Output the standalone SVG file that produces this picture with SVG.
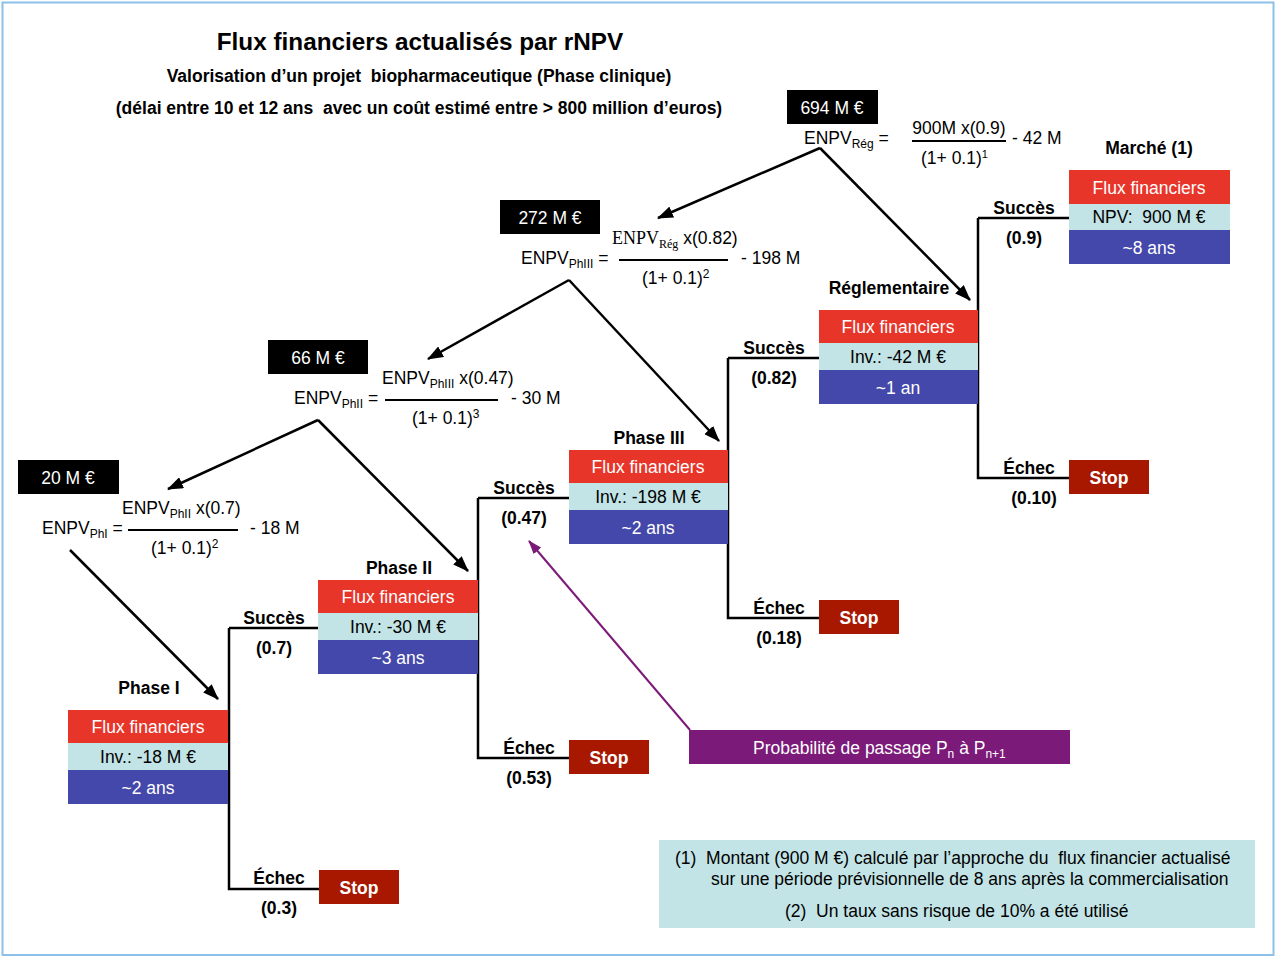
<svg xmlns="http://www.w3.org/2000/svg" width="1275" height="957" viewBox="0 0 1275 957">
<defs>
<style>
text{font-family:"Liberation Sans",Arial,sans-serif;font-size:17.5px;fill:#000;white-space:pre}
.b{font-weight:bold}
.t{font-size:24.3px;font-weight:bold}
.w{fill:#fff}
.m{text-anchor:middle}
.ser{font-family:"Liberation Serif","Times New Roman",serif}
.red{fill:#e8352a}
.lb{fill:#c2e4e6}
.blu{fill:#4448aa}
.stop{fill:#a81800}
.blk{fill:#000}
.ln{stroke:#000;stroke-width:2.5;fill:none}
.arr{stroke:#000;stroke-width:2.5;fill:none;marker-end:url(#ah)}
.frac{stroke:#000;stroke-width:2}
</style>
<marker id="ah" markerUnits="userSpaceOnUse" markerWidth="16" markerHeight="12" refX="15" refY="6" orient="auto">
<path d="M0,0 L16,6 L0,12 Z" fill="#000"/>
</marker>
<marker id="ahp" markerUnits="userSpaceOnUse" markerWidth="14" markerHeight="10" refX="13" refY="5" orient="auto">
<path d="M0,0 L14,5 L0,10 Z" fill="#7b1a78"/>
</marker>
</defs>
<rect x="0" y="0" width="1275" height="957" fill="#fff"/>
<rect x="2.5" y="2.5" width="1271" height="952.5" fill="none" stroke="#8cc0e8" stroke-width="2"/>

<g id="title">
<text class="t m" x="420" y="50">Flux financiers actualisés par rNPV</text>
<text class="b m" x="419" y="82" xml:space="preserve">Valorisation d’un projet  biopharmaceutique (Phase clinique)</text>
<text class="b m" x="419" y="114" xml:space="preserve">(délai entre 10 et 12 ans  avec un coût estimé entre &gt; 800 million d’euros)</text>
</g>

<g id="connectors">
<path class="ln" d="M229,628 H318 M229,628 V889 H319"/>
<path class="ln" d="M478,498 H569 M478,498 V758 H569"/>
<path class="ln" d="M728,358 H819 M728,358 V618 H819"/>
<path class="ln" d="M978,218 H1069 M978,218 V478 H1069"/>
<path class="arr" d="M820,148 L658,218"/>
<path class="arr" d="M820,148 L970,300"/>
<path class="arr" d="M569,280 L428,359"/>
<path class="arr" d="M569,280 L719,441"/>
<path class="arr" d="M318,420 L168,489"/>
<path class="arr" d="M318,420 L468,571"/>
<path class="arr" d="M70,550 L218,699"/>
<path d="M690,730 L529,541" stroke="#7b1a78" stroke-width="2" fill="none" marker-end="url(#ahp)"/>
</g>

<g id="value-reg">
<rect class="blk" x="787" y="90" width="91" height="34"/>
<text class="w m" x="832" y="114">694 M €</text>
<text x="804" y="144">ENPV<tspan font-size="12" dy="4">Rég</tspan><tspan dy="-4"> =</tspan></text>
<text class="m" x="959" y="134">900M x(0.9)</text>
<line class="frac" x1="912" y1="141" x2="1006" y2="141"/>
<text x="921" y="164">(1+ 0.1)<tspan font-size="11" dy="-6">1</tspan></text>
<text x="1012" y="144">- 42 M</text>
</g>

<g id="value-ph3">
<rect class="blk" x="500" y="200" width="100" height="34"/>
<text class="w m" x="550" y="224">272 M €</text>
<text x="521" y="264">ENPV<tspan font-size="12" dy="4">PhIII</tspan><tspan dy="-4"> =</tspan></text>
<text x="612" y="244"><tspan class="ser" font-size="18">ENPV</tspan><tspan class="ser" font-size="12" dy="4">Rég</tspan><tspan dy="-4"> x(0.82)</tspan></text>
<line class="frac" x1="619" y1="260" x2="728" y2="260"/>
<text x="642" y="284">(1+ 0.1)<tspan font-size="12" dy="-6">2</tspan></text>
<text x="741" y="264">- 198 M</text>
</g>

<g id="value-ph2">
<rect class="blk" x="268" y="340" width="100" height="34"/>
<text class="w m" x="318" y="364">66 M €</text>
<text x="294" y="404">ENPV<tspan font-size="12" dy="4">PhII</tspan><tspan dy="-4"> =</tspan></text>
<text x="382" y="384">ENPV<tspan font-size="12" dy="4">PhIII</tspan><tspan dy="-4"> x(0.47)</tspan></text>
<line class="frac" x1="385" y1="400" x2="498" y2="400"/>
<text x="412" y="424">(1+ 0.1)<tspan font-size="12" dy="-6">3</tspan></text>
<text x="511" y="404">- 30 M</text>
</g>

<g id="value-ph1">
<rect class="blk" x="18" y="460" width="101" height="34"/>
<text class="w m" x="68" y="484">20 M €</text>
<text x="42" y="534">ENPV<tspan font-size="12" dy="4">PhI</tspan><tspan dy="-4"> =</tspan></text>
<text x="122" y="514">ENPV<tspan font-size="12" dy="4">PhII</tspan><tspan dy="-4"> x(0.7)</tspan></text>
<line class="frac" x1="128" y1="530" x2="238" y2="530"/>
<text x="151" y="554">(1+ 0.1)<tspan font-size="12" dy="-6">2</tspan></text>
<text x="250" y="534">- 18 M</text>
</g>

<g id="phase1">
<text class="b m" x="149" y="694">Phase I</text>
<rect class="red" x="68" y="710" width="160" height="33"/>
<rect class="lb" x="68" y="743" width="160" height="27"/>
<rect class="blu" x="68" y="770" width="160" height="34"/>
<text class="w m" x="148" y="733">Flux financiers</text>
<text class="m" x="148" y="763">Inv.: -18 M €</text>
<text class="w m" x="148" y="794">~2 ans</text>
<text class="b m" x="274" y="624">Succès</text>
<text class="b m" x="274" y="654">(0.7)</text>
<text class="b m" x="279" y="884">Échec</text>
<text class="b m" x="279" y="914">(0.3)</text>
</g>
<g id="stop1">
<rect class="stop" x="319" y="870" width="80" height="34"/>
<text class="b w m" x="359" y="894">Stop</text>
</g>

<g id="phase2">
<text class="b m" x="399" y="574">Phase II</text>
<rect class="red" x="318" y="580" width="160" height="33"/>
<rect class="lb" x="318" y="613" width="160" height="27"/>
<rect class="blu" x="318" y="640" width="160" height="34"/>
<text class="w m" x="398" y="603">Flux financiers</text>
<text class="m" x="398" y="633">Inv.: -30 M €</text>
<text class="w m" x="398" y="664">~3 ans</text>
<text class="b m" x="524" y="494">Succès</text>
<text class="b m" x="524" y="524">(0.47)</text>
<text class="b m" x="529" y="754">Échec</text>
<text class="b m" x="529" y="784">(0.53)</text>
</g>
<g id="stop2">
<rect class="stop" x="569" y="740" width="80" height="34"/>
<text class="b w m" x="609" y="764">Stop</text>
</g>

<g id="phase3">
<text class="b m" x="649" y="444">Phase III</text>
<rect class="red" x="569" y="450" width="159" height="33"/>
<rect class="lb" x="569" y="483" width="159" height="27"/>
<rect class="blu" x="569" y="510" width="159" height="34"/>
<text class="w m" x="648" y="473">Flux financiers</text>
<text class="m" x="648" y="503">Inv.: -198 M €</text>
<text class="w m" x="648" y="534">~2 ans</text>
<text class="b m" x="774" y="354">Succès</text>
<text class="b m" x="774" y="384">(0.82)</text>
<text class="b m" x="779" y="614">Échec</text>
<text class="b m" x="779" y="644">(0.18)</text>
</g>
<g id="stop3">
<rect class="stop" x="819" y="600" width="80" height="34"/>
<text class="b w m" x="859" y="624">Stop</text>
</g>

<g id="reglementaire">
<text class="b m" x="889" y="294">Réglementaire</text>
<rect class="red" x="819" y="310" width="159" height="33"/>
<rect class="lb" x="819" y="343" width="159" height="27"/>
<rect class="blu" x="819" y="370" width="159" height="34"/>
<text class="w m" x="898" y="333">Flux financiers</text>
<text class="m" x="898" y="363">Inv.: -42 M €</text>
<text class="w m" x="898" y="394">~1 an</text>
<text class="b m" x="1024" y="214">Succès</text>
<text class="b m" x="1024" y="244">(0.9)</text>
<text class="b m" x="1029" y="474">Échec</text>
<text class="b m" x="1034" y="504">(0.10)</text>
</g>
<g id="stop4">
<rect class="stop" x="1069" y="460" width="80" height="34"/>
<text class="b w m" x="1109" y="484">Stop</text>
</g>

<g id="marche">
<text class="b m" x="1149" y="154">Marché (1)</text>
<rect class="red" x="1069" y="170" width="161" height="34"/>
<rect class="lb" x="1069" y="204" width="161" height="26"/>
<rect class="blu" x="1069" y="230" width="161" height="34"/>
<text class="w m" x="1149" y="194">Flux financiers</text>
<text class="m" x="1149" y="223" xml:space="preserve">NPV:  900 M €</text>
<text class="w m" x="1149" y="254">~8 ans</text>
</g>

<g id="probabilite">
<rect x="689" y="730" width="381" height="34" fill="#7b1a78"/>
<text class="w" x="753" y="754">Probabilité de passage P<tspan font-size="12" dy="4">n</tspan><tspan dy="-4"> à P</tspan><tspan font-size="12" dy="4">n+1</tspan></text>
</g>

<g id="legend">
<rect class="lb" x="659" y="840" width="596" height="88"/>
<text x="675" y="864" xml:space="preserve">(1)  Montant (900 M €) calculé par l’approche du  flux financier actualisé</text>
<text x="711" y="885">sur une période prévisionnelle de 8 ans après la commercialisation</text>
<text x="785" y="917" xml:space="preserve">(2)  Un taux sans risque de 10% a été utilisé</text>
</g>
</svg>
